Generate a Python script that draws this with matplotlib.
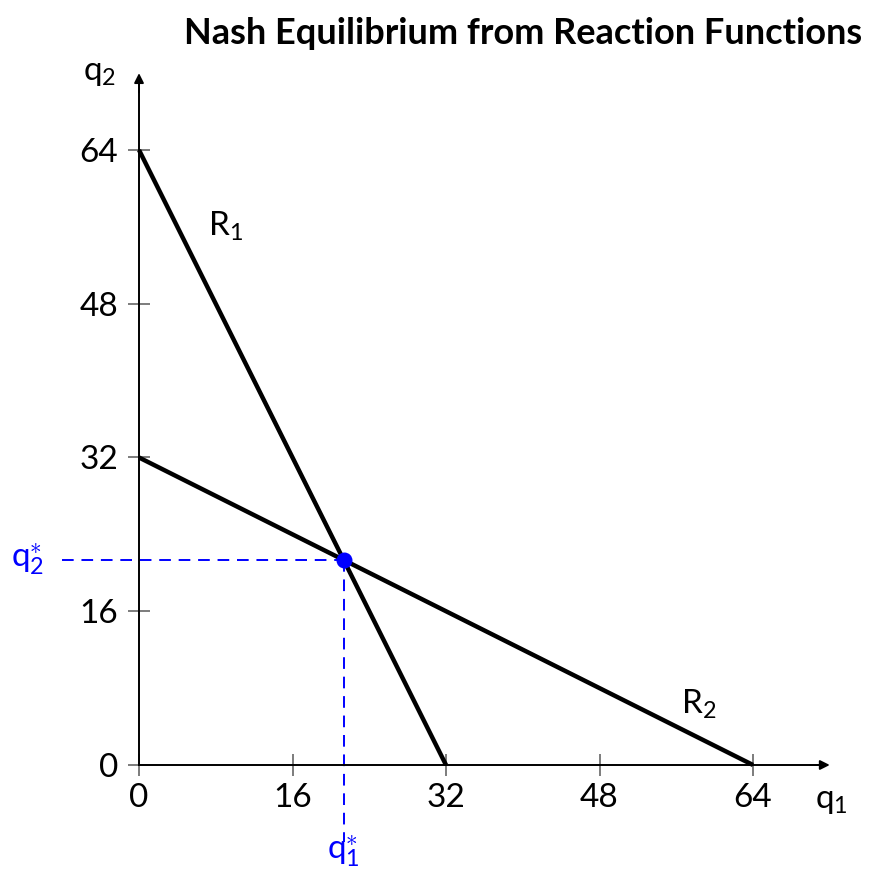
import numpy as np
import matplotlib
matplotlib.use("Agg")
import matplotlib.pyplot as plt

plt.rcParams['font.family'] = ['Lato', 'DejaVu Sans']
plt.rcParams['mathtext.fontset'] = 'custom'
plt.rcParams['mathtext.rm'] = 'Lato'
plt.rcParams['mathtext.it'] = 'Lato'

# --- данные: функции реакции q2 = a - b*q1 ---
r1_q1 = [0, 32]
r1_q2 = [64, 0]
r2_q1 = [0, 64]
r2_q2 = [32, 0]
tick_vals = [0, 16, 32, 48, 64]

# точка равновесия -- пересечение двух прямых
k1 = (r1_q2[1] - r1_q2[0]) / (r1_q1[1] - r1_q1[0])
k2 = (r2_q2[1] - r2_q2[0]) / (r2_q1[1] - r2_q1[0])
eq_q1 = (r2_q2[0] - r1_q2[0]) / (k1 - k2)
eq_q2 = r1_q2[0] + k1 * eq_q1

BLUE = '#0000ff'
AX_LEN = 72
FS = 24

fig = plt.figure(figsize=(8.83, 8.73), dpi=100)
ax = fig.add_axes([0, 0, 1, 1])
ax.set_xlim(-14.49, 77.55)
ax.set_ylim(-11.24, 79.61)

# оси через ноль
for side in ['top', 'right']:
    ax.spines[side].set_visible(False)
ax.spines['left'].set_position(('data', 0))
ax.spines['bottom'].set_position(('data', 0))
ax.spines['left'].set_bounds(0, AX_LEN - 1)
ax.spines['bottom'].set_bounds(0, AX_LEN - 1)
for side in ['left', 'bottom']:
    ax.spines[side].set_linewidth(1.4)
    ax.spines[side].set_zorder(2)

ax.annotate('', xy=(AX_LEN, 0), xytext=(AX_LEN - 2, 0),
            arrowprops=dict(arrowstyle='-|>', color='black', lw=1.4,
                            mutation_scale=14, shrinkA=0, shrinkB=0))
ax.annotate('', xy=(0, AX_LEN), xytext=(0, AX_LEN - 2),
            arrowprops=dict(arrowstyle='-|>', color='black', lw=1.4,
                            mutation_scale=14, shrinkA=0, shrinkB=0))

ax.set_xticks(tick_vals)
ax.set_yticks(tick_vals)
ax.set_xticklabels([str(v) for v in tick_vals])
ax.set_yticklabels([str(v) for v in tick_vals])
ax.tick_params(direction='inout', length=16, width=1.2, color='#666666',
               labelsize=FS, pad=5)
ax.tick_params(axis='y', pad=7)

# функции реакции
ax.plot(r1_q1, r1_q2, color='black', lw=3.2, solid_capstyle='butt', zorder=3)
ax.plot(r2_q1, r2_q2, color='black', lw=3.2, solid_capstyle='butt', zorder=3)

# пунктир к равновесию
ax.plot([-8.0, eq_q1], [eq_q2, eq_q2], color=BLUE, lw=1.4,
        dashes=(6, 4), zorder=2, clip_on=False)
ax.plot([eq_q1, eq_q1], [eq_q2, -8.0], color=BLUE, lw=1.4,
        dashes=(6, 4), zorder=2, clip_on=False)
ax.scatter([eq_q1], [eq_q2], s=110, color=BLUE, zorder=4)

ax.text(-11.6, eq_q2, r'$\mathrm{q}_2^{\ast}$', color=BLUE, fontsize=FS,
        ha='center', va='center')
ax.text(eq_q1, -9.0, r'$\mathrm{q}_1^{\ast}$', color=BLUE, fontsize=FS,
        ha='center', va='center')

ax.text(9.0, 56.0, r'$\mathrm{R}_1$', fontsize=FS, ha='center', va='center')
ax.text(58.3, 6.3, r'$\mathrm{R}_2$', fontsize=FS, ha='center', va='center')
ax.text(-4.1, 72.0, r'$\mathrm{q}_2$', fontsize=FS, ha='center', va='center')
ax.text(72.2, -3.7, r'$\mathrm{q}_1$', fontsize=FS, ha='center', va='center')

fig.text(0.592, 0.962, 'Nash Equilibrium from Reaction Functions',
         fontsize=26, fontweight='bold', ha='center', va='center')

fig.savefig('out.png', dpi=100)
